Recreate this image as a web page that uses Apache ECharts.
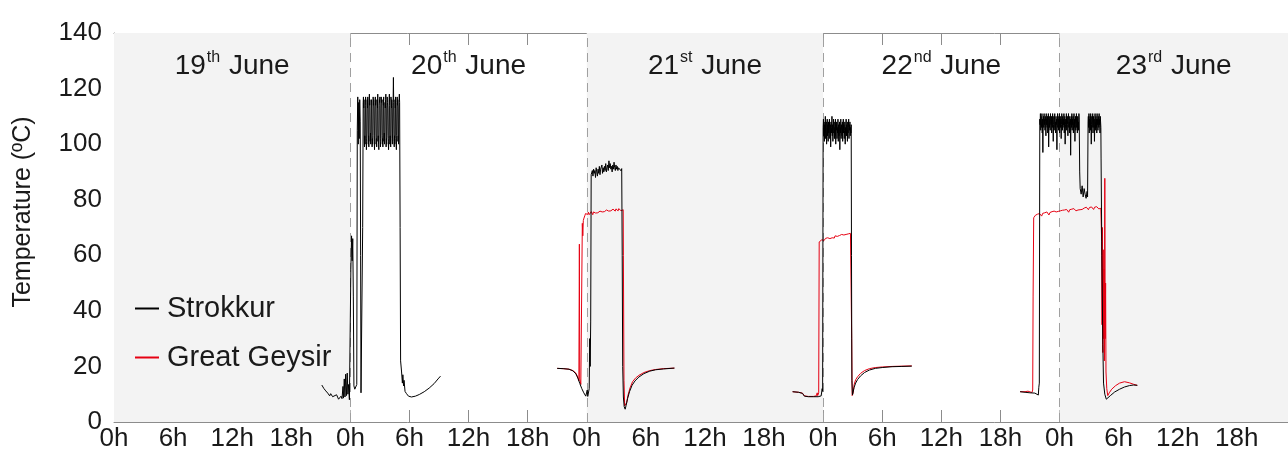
<!DOCTYPE html>
<html>
<head>
<meta charset="utf-8">
<script src="https://cdn.jsdelivr.net/npm/echarts@6/dist/echarts.min.js"></script>
<style>html,body{margin:0;padding:0;background:#fff}#c{width:1288px;height:454px}</style>
</head>
<body>
<div id="c"></div>
<script>
// ---- data: hours since 19 June 0h, temperature in °C ----
const hourLabels = ['0h', '6h', '12h', '18h'];
const dayLabels = [['19', 'th'], ['20', 'th'], ['21', 'st'], ['22', 'nd'], ['23', 'rd']];
const shadedDays = [0, 2, 4];
const dayBoundaries = [24, 48, 72, 96];
const yTitle = 'Temperature (ºC)';

// Strokkur (black)
const s20pre = [[21.1,13.3],[21.3,12.1],[21.5,11.2],[21.7,10.4],[21.9,9.4],[22.0,10.2],[22.2,9.1],[22.4,8.6],[22.6,9.8],[22.8,8.2],[22.95,7.9],[23.05,9.3],[23.15,8.4],[23.25,12.8],[23.3,8.6],[23.38,15.5],[23.45,9.0],[23.52,17.2],[23.6,9.5],[23.68,17.6],[23.75,10.0],[23.82,13.5],[23.9,8.0],[23.98,8.2],[24.05,55],[24.12,67],[24.18,58],[24.24,66],[24.3,45],[24.36,13],[24.45,11.8],[24.55,12.3],[24.65,13.5],[24.7,105],[24.75,117],[24.8,100],[24.85,115],[24.9,102],[24.95,116],[25.0,108],[25.04,60],[25.08,10.5],[25.18,11],[25.25,70]];
const s20plateau = [115,117,113,116, 101,99,103,100, 114,117,115, 102,98,101,104, 116,113,117,114, 100,103,99, 115,118,114,116, 101,104,100,102, 113,116,115, 99,102,100,103, 117,114,116,113, 101,98,103, 115,117,114,116, 100,102,99,104, 116,113,118, 101,103,100,98, 114,116,115,117, 102,99,101, 113,117,115,116, 103,100,102,99, 116,114,117, 101,104,100,102, 115,113,116,118, 99,102,100, 114,117,115,113, 103,101,98,102, 116,118,114, 100,103,101,99, 117,115,113,116, 102,100,104, 114,116,124,115, 101,99,103,100, 116,113,117, 102,100,98,103, 115,117,114,116, 101,103,100, 113,116,118,115];
const s20post = [[29.05,70],[29.1,22],[29.2,18],[29.28,14],[29.33,17],[29.4,13],[29.45,15],[29.55,11],[29.7,10.2],[29.9,9.3],[30.2,9.0],[30.6,9.3],[31.0,9.9],[31.5,10.9],[32.0,12.2],[32.5,13.8],[32.9,15.5],[33.15,16.5]];

const s21pre = [[45.0,19.3],[45.6,19.2],[46.2,19.0],[46.6,18.4],[46.9,17.3],[47.1,15.8],[47.3,13.8],[47.5,12.0],[47.7,10.5],[47.9,9.3],[48.0,9.0],[48.05,11.5],[48.1,9.2],[48.18,8.8],[48.25,12],[48.3,30],[48.35,20],[48.4,36],[48.45,89]];
const s21plateau = [89,90.5,88.5,91,89.5,90.5,88,91.5,90,88.5,91,89.5,92,89,91,90.5,92.5,89.5,91.5,90,92,90.5,93,90,91.5,92.5,90.5,94,91.5,93,91,92,90,92.5,91,93.5,91.5,90.5,92.5,91,92,90.5,91.5,92,90.8,91.6,90.4,91.2];
const s21post = [[51.6,60],[51.65,20],[51.72,9],[51.8,5.5],[51.9,4.6],[52.0,6.0],[52.15,8.5],[52.35,11.0],[52.6,13.2],[52.9,14.8],[53.3,16.2],[53.8,17.4],[54.4,18.3],[55.0,18.8],[55.8,19.1],[56.9,19.4]];

const s22pre = [[68.9,10.9],[69.5,10.7],[69.9,10.3],[70.1,9.3],[70.5,9.1],[71.0,9.1],[71.5,9.1],[71.8,9.4],[71.9,12],[71.95,11]];
const s22plateau = [106,109,103,108,101,107,104,110,102,106,108,100,105,109,103,107,101,108,104,106,109,102,105,107,99,108,104,106,110,103,107,101,105,109,104,108,102,106,103,109,100,107,105,108,102,106,104,109,101,107,103,105,108,98,106,104,109,102,107,105,103,108,101,106,109,104,107,102,105,108,100,106,104,109,103,107,105,101,108,104,106,109,102,107,105,108,103,106,104,107];
const s22post = [[74.88,60],[74.92,15],[74.98,9.7],[75.05,10.2],[75.15,12.5],[75.3,14.0],[75.5,15.3],[75.8,16.6],[76.2,17.8],[76.7,18.7],[77.3,19.3],[78.0,19.6],[79.0,19.9],[80.0,20.0],[81.0,20.1]];

const s23pre = [[92.0,10.9],[92.5,10.7],[93.0,10.5],[93.5,10.4],[93.7,10.0],[93.85,9.7],[93.9,12.5],[93.95,14]];
const s23plateau1 = [109,107,111,105,110,108,106,111,104,109,97,108,110,106,111,107,109,105,110,108,103,111,107,109,106,110,104,108,111,99,107,110,106,109,105,111,108,107,110,104,109,106,111,108,101,107,110,105,109,111,106,108,104,110,107,109,98,108,111,106,110,105,109,107,111,104,108,110,106,109,102,107,111,108,105,110,106,109,107,111,104,108,110,100,107,109,106,111,105,108,110,107,103,109,111,106,108,104,110,107,109,96,108,110,106,111,105,109,107,110,104,108,111,106,109,101,107,110,105,108,111,106,109,104,110,107,108,105,111,109];
const s23dip = [[98.05,90],[98.1,84],[98.2,82],[98.3,85],[98.4,81],[98.5,84],[98.6,82],[98.7,80.5],[98.8,83],[98.85,81]];
const s23plateau2 = [108,110,106,111,104,109,107,110,105,111,108,100,107,110,106,109,111,104,108,110,106,109,101,107,111,105,108,110,106,109,104,111,107,109,105,110,108,106,111,107,109,104,110,108,106];
const s23post = [[100.22,95],[100.3,60],[100.4,28],[100.47,14],[100.6,10],[100.75,8.2],[100.85,7.9],[100.95,8.5],[101.2,9.6],[101.6,10.8],[102.1,11.8],[102.6,12.6],[103.1,13.1],[103.5,13.3],[103.9,13.2]];

// Great Geysir (red)
const g21pre = [[45.0,19.3],[45.6,19.2],[46.2,19.0],[46.6,18.5],[46.9,17.6],[47.1,16.0],[47.2,14.8],[47.25,64],[47.29,15.5],[47.4,13.5],[47.5,13.0],[47.55,71.5],[47.6,67],[47.65,72.5],[47.72,73.4]];
const g21plateau = [74.2,75.0,74.4,75.3,74.7,75.5,74.6,75.2,74.9,75.7,75.0,74.6,75.6,75.1,75.8,75.2,74.9,75.7,75.3,76.0,75.4,75.9,75.2,76.1,75.6,75.3,76.2,75.7,76.0,75.5,76.3,75.8,76.4,75.9,75.6,76.5,76.0,76.3,75.8,76.6,76.1,76.4,75.9,76.7,76.2,76.5,76.0,76.8,76.3,76.5,76.0,76.6,76.2,76.4];
const g21post = [[51.72,60],[51.78,15],[51.85,5.8],[51.95,5.3],[52.05,7.0],[52.2,9.8],[52.4,12.3],[52.65,14.5],[52.95,15.8],[53.3,16.8],[53.8,17.8],[54.4,18.5],[55.0,18.9],[55.8,19.2],[56.9,19.4]];

const g22pre = [[68.9,10.9],[69.5,10.7],[69.9,10.4],[70.1,9.4],[70.5,9.2],[71.0,9.2],[71.3,9.4],[71.4,10.5],[71.45,9.5],[71.55,10.5],[71.6,64.8]];
const g22plateau = [65.0,65.4,64.8,65.6,65.1,65.8,65.3,65.5,66.1,65.6,65.9,66.3,65.8,66.5,66.0,66.2,66.7,66.3,66.9,66.5,66.2,67.0,66.6,67.2,66.8,67.4,66.9,67.1,67.6,67.2,67.5,67.0,67.8,67.3,67.6,68.0,67.5,67.9,68.2,67.7,68.0,68.4,67.9,68.1];
const g22post = [[74.9,30],[74.95,9.5],[75.05,10.5],[75.15,13.5],[75.3,15.2],[75.5,16.3],[75.8,17.5],[76.2,18.5],[76.7,19.2],[77.3,19.6],[78.0,19.8],[79.0,20.0],[80.0,20.1],[81.0,20.2]];

const g23pre = [[92.0,10.9],[92.5,10.9],[92.8,11.1],[93.0,10.8],[93.2,10.6],[93.28,11.5],[93.32,45],[93.38,73.5]];
const g23plateau = [73.6,74.4,73.9,74.8,74.2,75.0,74.4,74.1,75.1,74.6,75.3,74.7,75.6,74.9,74.5,75.4,75.0,75.7,75.1,75.9,75.2,75.6,74.9,75.8,75.3,76.0,75.5,76.2,75.6,76.3,75.8,76.5,75.9,75.5,76.4,75.9,76.6,76.1,76.8,76.2,76.0,76.7,76.3,76.9,76.4,77.1,76.5,76.2,77.0,76.6,77.3,76.7,76.4,77.2,76.8,77.4,76.9,76.5,77.3,76.8,77.5,77.0,76.7,77.2,76.9];
const g23post = [[100.28,65],[100.32,35],[100.36,70],[100.4,25],[100.44,62],[100.48,30],[100.52,55],[100.56,22],[100.6,87.7],[100.64,30],[100.68,50],[100.72,18],[100.8,12],[100.9,9.5],[101.05,10.5],[101.3,11.8],[101.7,13.1],[102.1,14.0],[102.6,14.5],[103.1,14.1],[103.5,13.6],[103.9,13.2]];

// ---- build series data (plateau readings spread evenly over their time span) ----
function spread(t0, t1, vals) {
  const dt = (t1 - t0) / (vals.length - 1);
  return vals.map((v, i) => [Math.round((t0 + i * dt) * 10000) / 10000, v]);
}
const GAP = [null, null];
const strokkur = [].concat(
  s20pre, spread(25.3, 29.0, s20plateau), s20post, [GAP],
  s21pre, spread(48.5, 51.55, s21plateau), s21post, [GAP],
  s22pre, spread(72.0, 74.85, s22plateau), s22post, [GAP],
  s23pre, spread(94.0, 98.0, s23plateau1), s23dip, spread(98.9, 100.2, s23plateau2), s23post
);
const geysir = [].concat(
  g21pre, spread(47.8, 51.7, g21plateau), g21post, [GAP],
  g22pre, spread(71.65, 74.85, g22plateau), g22post, [GAP],
  g23pre, spread(93.45, 100.2, g23plateau), g23post
);

const FONT = '"Liberation Sans", Arial, sans-serif';
const AXIS_GRAY = '#8c8c8c';
const TEXT = '#1a1a1a';

const areaData = dayLabels.map((d, i) => [{
  xAxis: i * 24,
  itemStyle: { color: shadedDays.includes(i) ? '#f3f3f3' : 'rgba(255,255,255,0)' },
  label: { formatter: '{n|' + d[0] + '}{s|' + d[1] + '}{n| June}' }
}, { xAxis: (i + 1) * 24 }]);

const chart = echarts.init(document.getElementById('c'), null, { renderer: 'canvas' });
chart.setOption({
  animation: false,
  textStyle: { fontFamily: FONT },
  grid: { left: 114, right: 0, top: 33, bottom: 32 },
  graphic: [{
    type: 'text', x: 23, y: 212, rotation: Math.PI / 2,
    style: { text: yTitle, fontSize: 25, fontFamily: FONT, fill: TEXT, align: 'center', verticalAlign: 'middle' }
  }],
  legend: {
    orient: 'vertical', left: 135, top: 294, padding: 0, itemGap: 20,
    icon: 'rect', itemWidth: 24, itemHeight: 2,
    textStyle: { fontSize: 29, color: TEXT, fontFamily: FONT, padding: [0, 0, 0, 3] },
    data: ['Strokkur', 'Great Geysir']
  },
  xAxis: [{
    type: 'value', min: 0, max: 119.2, interval: 6, position: 'bottom',
    axisLine: { lineStyle: { color: AXIS_GRAY, width: 1 } },
    axisTick: { inside: true, length: 12, lineStyle: { color: AXIS_GRAY } },
    axisLabel: { fontSize: 26, color: TEXT, margin: 4, fontFamily: FONT, showMaxLabel: false,
      formatter: v => (Math.abs(v / 6 - Math.round(v / 6)) < 1e-6 ? hourLabels[Math.round(v / 6) % 4] : '') },
    splitLine: { show: false }
  }, {
    type: 'value', min: 0, max: 119.2, interval: 6, position: 'top',
    axisLine: { lineStyle: { color: AXIS_GRAY, width: 1 } },
    axisTick: { inside: true, length: 12, lineStyle: { color: AXIS_GRAY } },
    axisLabel: { show: false }, splitLine: { show: false }
  }],
  yAxis: {
    type: 'value', min: 0, max: 140, interval: 20,
    axisLine: { show: true, lineStyle: { color: AXIS_GRAY, width: 1 } },
    axisTick: { inside: true, length: 12, lineStyle: { color: AXIS_GRAY } },
    axisLabel: { fontSize: 26, color: TEXT, margin: 12, fontFamily: FONT, padding: [0, 0, 6, 0] },
    splitLine: { show: false }
  },
  series: [{
    name: 'Strokkur', type: 'line', data: strokkur, z: 4,
    showSymbol: false, symbol: 'none', connectNulls: false, sampling: null,
    color: '#000000', lineStyle: { color: '#000000', width: 1 },
    markArea: {
      silent: true,
      label: { show: true, position: 'insideTop', distance: 17, color: TEXT, fontFamily: FONT,
        rich: {
          n: { fontSize: 28, color: TEXT, fontFamily: FONT, lineHeight: 30, verticalAlign: 'bottom' },
          s: { fontSize: 16, color: TEXT, fontFamily: FONT, lineHeight: 30, verticalAlign: 'top', padding: [0, 1, 0, 1] }
        }
      },
      data: areaData
    }
  }, {
    name: 'Great Geysir', type: 'line', data: geysir, z: 3,
    showSymbol: false, symbol: 'none', connectNulls: false, sampling: null,
    color: '#e60012', lineStyle: { color: '#e60012', width: 1 },
    markLine: {
      silent: true, symbol: 'none', z: 2, label: { show: false },
      lineStyle: { color: '#a0a0a0', type: [9, 6], width: 1 },
      data: dayBoundaries.map(h => ({ xAxis: h }))
    }
  }]
});
</script>
</body>
</html>
